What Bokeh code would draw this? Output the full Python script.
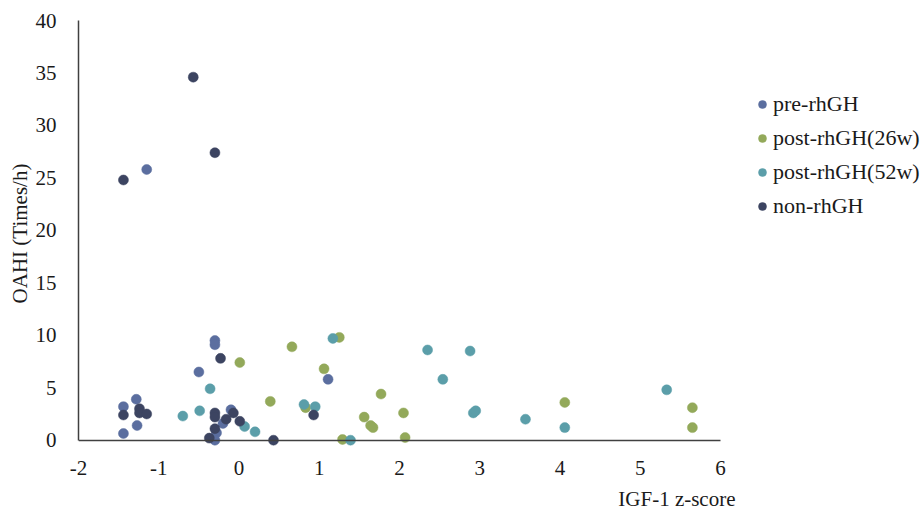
from bokeh.plotting import figure
from bokeh.models import Range1d, Legend, LegendItem, Title, FixedTicker, LinearAxis
from bokeh.embed import file_html
from bokeh.resources import INLINE

pre_x = [-1.15, -1.44, -1.28, -1.27, -1.44, -0.30, -0.30, -0.50, -0.10, -0.20, -0.28, -0.30, 1.11]
pre_y = [25.8, 3.2, 3.9, 1.4, 0.64, 9.5, 9.1, 6.5, 2.9, 1.6, 0.7, 0.0, 5.8]

w26_x = [0.01, 0.66, 0.39, 1.06, 0.83, 1.25, 1.29, 1.77, 1.56, 1.64, 1.67, 2.05, 2.07, 4.06, 5.65, 5.65]
w26_y = [7.4, 8.9, 3.7, 6.8, 3.1, 9.8, 0.07, 4.4, 2.2, 1.4, 1.2, 2.6, 0.25, 3.6, 3.1, 1.2]

w52_x = [-0.36, -0.49, -0.70, 0.07, 0.20, 0.81, 0.95, 1.17, 1.39, 2.35, 2.88, 2.54, 2.92, 2.95, 3.57, 4.06, 5.33]
w52_y = [4.9, 2.8, 2.3, 1.3, 0.8, 3.4, 3.2, 9.7, 0.0, 8.6, 8.5, 5.8, 2.6, 2.8, 2.0, 1.2, 4.8]

non_x = [-0.57, -0.30, -1.44, -1.44, -1.24, -1.24, -1.15, -0.23, -0.30, -0.30, -0.16, -0.07, 0.01, -0.30, -0.37, 0.43, 0.93]
non_y = [34.6, 27.4, 24.8, 2.4, 3.0, 2.6, 2.5, 7.8, 2.6, 2.2, 2.0, 2.6, 1.8, 1.1, 0.2, 0.0, 2.4]

series_names = ["pre-rhGH", "post-rhGH(26w)", "post-rhGH(52w)", "non-rhGH"]
x_ticks = [-2, -1, 0, 1, 2, 3, 4, 5, 6]
x_tick_labels = {-2: "-2", -1: "-1"}
y_ticks = [0, 5, 10, 15, 20, 25, 30, 35, 40]

colors = ["#5b6e9f", "#93a95a", "#5b9ea9", "#3c4461"]
FONT = "Liberation Serif"
TXT = "#1a1a1a"

W, H = 921, 518
p = figure(width=W, height=H, output_backend="svg", toolbar_location=None,
           x_range=Range1d(-2, 8.505), y_range=Range1d(-0.6, 40),
           min_border_left=78, min_border_top=20, min_border_right=0, min_border_bottom=72)
p.outline_line_color = None
p.xgrid.visible = False
p.ygrid.visible = False

renderers = []
for (xs, ys), c in zip([(pre_x, pre_y), (w26_x, w26_y), (w52_x, w52_y), (non_x, non_y)], colors):
    r = p.scatter(xs, ys, size=10, fill_color=c, line_color=c, line_width=0.5)
    renderers.append(r)

for ax in (p.xaxis[0], p.yaxis[0]):
    ax.axis_line_color = "#404040"
    ax.axis_line_width = 1.5
    ax.major_tick_line_color = None
    ax.minor_tick_line_color = None
    ax.major_label_text_font = FONT
    ax.major_label_text_font_size = "21px"
    ax.major_label_text_color = TXT

xa = p.xaxis[0]
xa.ticker = FixedTicker(ticks=x_ticks)
xa.major_label_overrides = x_tick_labels
xa.axis_line_color = None
xa.major_label_standoff = 8

xline = LinearAxis(fixed_location=0, bounds=(-2, 6), ticker=FixedTicker(ticks=[]),
                   axis_line_color="#404040", axis_line_width=1.5,
                   major_tick_line_color=None, minor_tick_line_color=None,
                   major_label_standoff=0)
p.add_layout(xline, "below")

ya = p.yaxis[0]
ya.ticker = FixedTicker(ticks=y_ticks)
ya.major_label_standoff = 16
ya.bounds = (0, 40)
ya.axis_label = "OAHI (Times/h)"
ya.axis_label_text_font = FONT
ya.axis_label_text_font_size = "21px"
ya.axis_label_text_font_style = "normal"
ya.axis_label_text_color = TXT
ya.axis_label_standoff = 1

p.add_layout(Title(text="IGF-1 z-score", align="right", offset=186,
                   text_font=FONT, text_font_size="21px", text_font_style="normal",
                   text_color=TXT, standoff=15), "below")

legend = Legend(items=[LegendItem(label=n, renderers=[r]) for n, r in zip(series_names, renderers)],
                location=(674, 227), padding=0, margin=0, spacing=8,
                label_text_font=FONT, label_text_font_size="22px", label_text_color=TXT,
                glyph_width=20, glyph_height=20, label_standoff=1, label_height=20,
                border_line_color=None, background_fill_alpha=0)
p.add_layout(legend, "center")

open("out.html", "w").write(file_html(p, INLINE))
